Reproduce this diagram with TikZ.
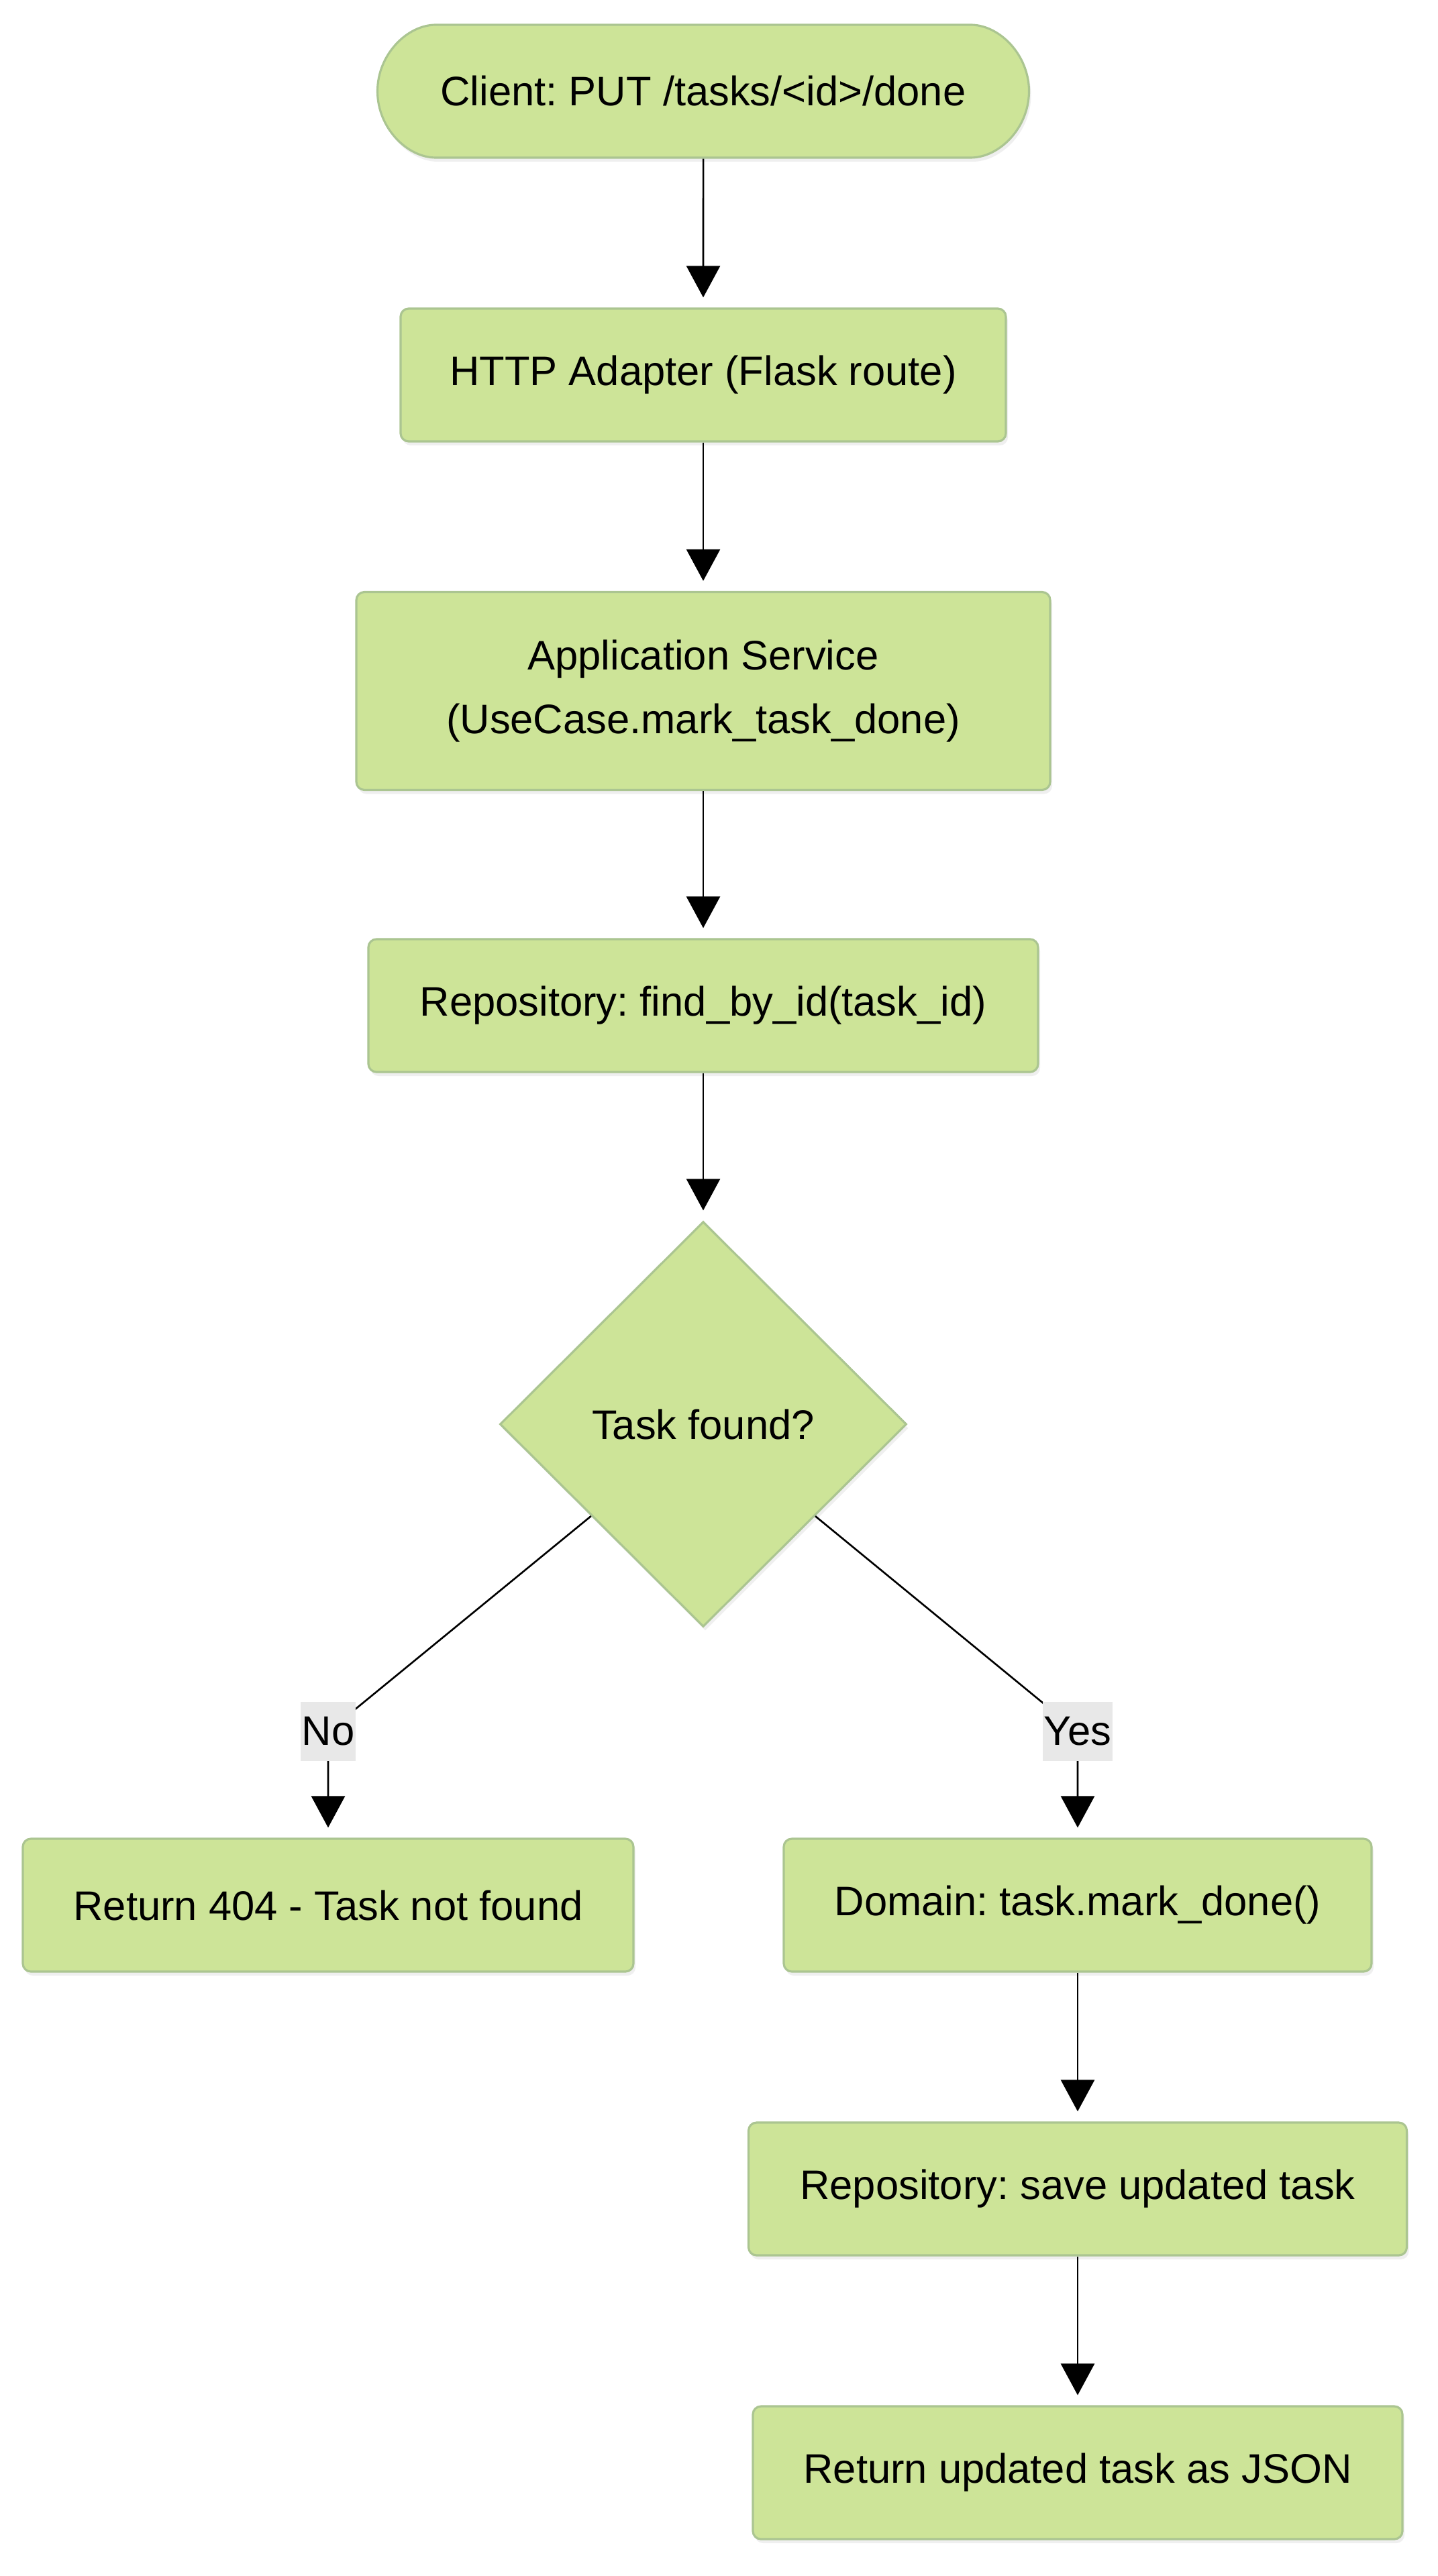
\documentclass[tikz,border=0pt]{standalone}
\usepackage{fontspec}
\setmainfont{Liberation Sans}
\frenchspacing
\usetikzlibrary{arrows.meta,shapes.geometric,shapes.misc,shadows}

\definecolor{nodefill}{HTML}{CDE498}
\definecolor{nodeline}{HTML}{ABC591}
\definecolor{lblfill}{HTML}{E8E8E8}

\tikzset{
  procbox/.style={rectangle, rounded corners=0.12cm, draw=nodeline, line width=0.9pt,
    fill=nodefill, drop shadow={shadow xshift=0.03cm, shadow yshift=-0.06cm, opacity=0.12},
    minimum height=1.98cm, align=center, inner sep=0pt,
    font=\fontsize{17.5}{27}\selectfont},
  startbox/.style={procbox, rounded rectangle},
  decbox/.style={procbox, diamond, rounded corners=0pt, minimum width=6.06cm, minimum height=6.04cm},
  lbl/.style={fill=lblfill, inner xsep=0.5pt, minimum height=0.88cm,
    font=\fontsize{17.5}{21}\selectfont},
  flow/.style={line width=0.75pt, -{Triangle[length=0.47cm,width=0.5cm]}, shorten >=0.15cm}
}

\begin{document}
\begin{tikzpicture}
  \useasboundingbox (0,0) rectangle (21.43,-38.40);
  \fill[white] (0,0) rectangle (21.43,-38.40);

  \node[startbox, minimum width=9.71cm] (client) at (10.48,-1.36) {Client: PUT /tasks/<id>/done};
  \node[procbox, minimum width=9.02cm] (http) at (10.48,-5.59) {HTTP Adapter (Flask route)};
  \node[procbox, minimum width=10.34cm, minimum height=2.95cm] (app) at (10.48,-10.30)
    {Application Service\\(UseCase.mark\_task\_done)};
  \node[procbox, minimum width=9.98cm] (repo) at (10.48,-14.99) {Repository: find\_by\_id(task\_id)};
  \node[decbox] (found) at (10.48,-21.23) {Task found?};
  \node[procbox, minimum width=9.10cm] (notfound) at (4.89,-28.40) {Return 404 - Task not found};
  \node[procbox, minimum width=8.76cm] (markdone) at (16.06,-28.40) {Domain: task.mark\_done()};
  \node[procbox, minimum width=9.81cm] (save) at (16.06,-32.63) {Repository: save updated task};
  \node[procbox, minimum width=9.68cm] (json) at (16.06,-36.86) {Return updated task as JSON};

  \coordinate (nobend) at (4.89,-25.81);
  \coordinate (yesbend) at (16.06,-25.81);

  \draw[flow] (client) -- (http);
  \draw[flow] (http) -- (app);
  \draw[flow] (app) -- (repo);
  \draw[flow] (repo) -- (found);
  \draw[flow] (found) -- (nobend) node[lbl] (nolbl) {No} -- (notfound);
  \draw[flow] (found) -- (yesbend) node[lbl] (yeslbl) {Yes} -- (markdone);
  \draw[flow] (markdone) -- (save);
  \draw[flow] (save) -- (json);
\end{tikzpicture}
\end{document}
